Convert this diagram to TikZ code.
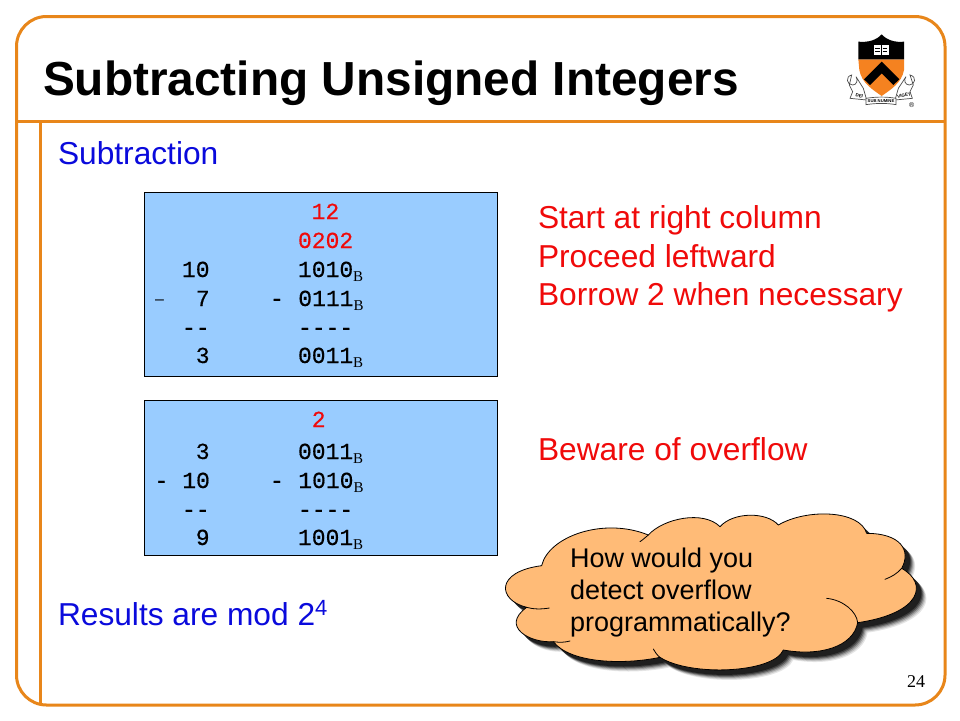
\documentclass[tikz,border=0pt]{standalone}
\usepackage{fontspec}
\setmainfont{Liberation Sans}
\newfontfamily\monof[FakeBold=0.4]{Liberation Mono}
\newfontfamily\seriff{Liberation Serif}
\definecolor{frameor}{HTML}{E8861A}
\definecolor{boxblue}{HTML}{99CCFF}
\definecolor{cloudor}{HTML}{FFBB77}
\definecolor{txtblue}{HTML}{0A0ADC}
\definecolor{txtred}{HTML}{F00A0A}
\definecolor{crestor}{HTML}{F58220}
\newcommand{\fs}[1]{\fontsize{#1}{#1}\selectfont}
\newcommand{\subB}{\raisebox{-4.5pt}{\seriff\fs{15}B}}
\tikzset{
  x=1pt,y=-1pt,
  lab/.style={anchor=base west,inner sep=0pt,outer sep=0pt,font=\fs{31.7}},
  mono/.style={anchor=base west,inner sep=0pt,outer sep=0pt,font=\monof\fs{23}},
  cloudtxt/.style={anchor=base west,inner sep=0pt,outer sep=0pt,font=\fs{27}},
  calcbox/.style={draw=black,line width=1pt,fill=boxblue},
  framel/.style={draw=frameor,line width=3pt},
  cloudline/.style={draw=black,line width=.8pt,line cap=round}
}
\newcommand{\cloudpath}{
  (155,197) .. controls (175,110) and (340,50) .. (475,105)
  .. controls (520,55) and (640,30) .. (690,80)
  .. controls (730,35) and (830,35) .. (865,75)
  .. controls (950,25) and (1110,30) .. (1130,100)
  .. controls (1230,100) and (1265,150) .. (1235,205)
  .. controls (1315,250) and (1295,340) .. (1103,368)
  .. controls (1090,440) and (990,470) .. (880,450)
  .. controls (850,520) and (600,530) .. (510,472)
  .. controls (400,495) and (240,490) .. (190,425)
  .. controls (120,430) and (30,380) .. (110,322)
  .. controls (22,300) and (15,215) .. (155,197) -- cycle
}
\begin{document}
\begin{tikzpicture}
\useasboundingbox (0,0) rectangle (960,720);
\fill[white] (0,0) rectangle (960,720);
% frame
\draw[framel,rounded corners=30pt] (16.5,16.5) rectangle (945,705);
\draw[framel] (16.5,121) -- (945,121);
\draw[framel] (40.5,121) -- (40.5,705);
% title
\node[lab,font=\bfseries\fs{47.8}] (title) at (43,95) {Subtracting Unsigned Integers};
\node[lab,text=txtblue] (sub) at (58,164) {Subtraction};
\node[lab,text=txtblue] (res) at (58,625) {Results are mod 2\raisebox{10pt}{\fs{22}4}};
% right texts
\node[lab,text=txtred] (r1) at (538,228) {Start at right column};
\node[lab,text=txtred] (r2) at (538,267) {Proceed leftward};
\node[lab,text=txtred] (r3) at (538,305) {Borrow 2 when necessary};
\node[lab,text=txtred] (r4) at (538,460) {Beware of overflow};
% box one
\draw[calcbox] (144.5,192.5) rectangle (497,376);
\node[mono,text=txtred] (a1) at (311.7,219) {12};
\node[mono,text=txtred] (a2) at (298,248) {0202};
\node[mono] (a3l) at (182,277) {10};
\node[mono] (a3r) at (298,277) {1010\subB};
\node[anchor=base west,inner sep=0pt,font=\fs{16}] (a4m) at (155,304) {–};
\node[mono] (a4l) at (195.8,306) {7};
\node[mono] (a4r) at (270,306) {-\hspace{14.5pt}0111\subB};
\node[mono] (a5l) at (182,335) {--};
\node[mono] (a5r) at (298,335) {----};
\node[mono] (a6l) at (195.8,363) {3};
\node[mono] (a6r) at (298,363) {0011\subB};
% box two
\draw[calcbox] (144.5,400.5) rectangle (497,555);
\node[mono,text=txtred] (b1) at (298,427) {\hspace{13.8pt}2};
\node[mono] (b2l) at (195.8,459) {3};
\node[mono] (b2r) at (298,459) {0011\subB};
\node[mono] (b3l) at (154.5,488) {-\hspace{14pt}10};
\node[mono] (b3r) at (270,488) {-\hspace{14.5pt}1010\subB};
\node[mono] (b4l) at (182,517) {--};
\node[mono] (b4r) at (298,517) {----};
\node[mono] (b5l) at (195.8,545) {9};
\node[mono] (b5r) at (298,545) {1001\subB};
% cloud
\begin{scope}[shift={(490,500)},scale=1/3]
  \foreach \d/\o in {30/.10,27/.14,24/.2,21/.3,18/.4,15/.5}{
    \fill[black,opacity=\o,shift={(\d,\d)}] \cloudpath;
  }
  \fill[cloudor] \cloudpath;
  \draw[cloudline] \cloudpath;
  % interior lobe tails
  \draw[cloudline] (475,105) .. controls (470,109) and (460,118) .. (450,125);
  \draw[cloudline] (1235,205) .. controls (1220,222) and (1205,230) .. (1185,238);
  \draw[cloudline] (1103,368) .. controls (1100,335) and (1060,300) .. (1010,295);
  \draw[cloudline] (510,472) .. controls (500,465) and (495,455) .. (490,447);
  \draw[cloudline] (190,425) .. controls (210,428) and (225,427) .. (240,423);
  \draw[cloudline] (110,322) .. controls (130,328) and (155,328) .. (178,324);
\end{scope}
\node[cloudtxt] (c1) at (570,567) {How would you};
\node[cloudtxt] (c2) at (570,599) {detect overflow};
\node[cloudtxt] (c3) at (570,631) {programmatically?};
% page number
\node[anchor=base west,inner sep=0pt,font=\seriff\fs{18}] (pg) at (907,687) {24};
% crest
\begin{scope}[shift={(830,20)},scale=1/3]
  % scrolls
  \draw[fill=white,draw=black!70,line width=.7pt] (65,165) .. controls (45,170) and (50,195) .. (68,195) .. controls (80,195) and (85,180) .. (78,170) -- (100,205) -- (110,240) -- (60,235) -- (68,215) -- (58,195) -- cycle;
  \draw[fill=white,draw=black!70,line width=.7pt] (240,165) .. controls (262,170) and (255,195) .. (238,195) .. controls (225,195) and (220,180) .. (228,170) -- (205,205) -- (195,240) -- (247,235) -- (240,215) -- (250,195) -- cycle;
  \draw[fill=white,draw=black!70,line width=.7pt] (108,235) .. controls (140,230) and (170,230) .. (198,235) -- (198,254) .. controls (170,249) and (140,249) .. (108,254) -- cycle;
  % shield
  \fill[crestor] (85,118) -- (222,118) -- (222,150) .. controls (215,190) and (180,210) .. (155,228) .. controls (130,210) and (95,190) .. (88,150) -- cycle;
  \fill[black] (85,65) .. controls (115,68) and (140,60) .. (155,43) .. controls (170,60) and (195,68) .. (222,65) -- (222,118) -- (85,118) -- cycle;
  \fill[black] (155,125) -- (208,178) -- (190,195) -- (155,160) -- (120,195) -- (102,178) -- cycle;
  \fill[white] (132,75) rectangle (176,106);
  \draw[black,line width=.6pt] (154,75) -- (154,106) (136,84) -- (150,84) (158,84) -- (172,84) (136,95) -- (150,95) (158,95) -- (172,95);
  \node[font=\bfseries\fs{4.5},inner sep=0pt,rotate=-12] (dei) at (88,227) {DEI};
  \node[font=\bfseries\fs{4.2},inner sep=0pt] (subn) at (153,244) {SUB NUMINE};
  \node[font=\bfseries\fs{4.5},inner sep=0pt,rotate=12] (viget) at (222,227) {VIGET};
  \node[font=\fs{7},inner sep=0pt] (reg) at (245,255) {®};
\end{scope}
\end{tikzpicture}
\end{document}
